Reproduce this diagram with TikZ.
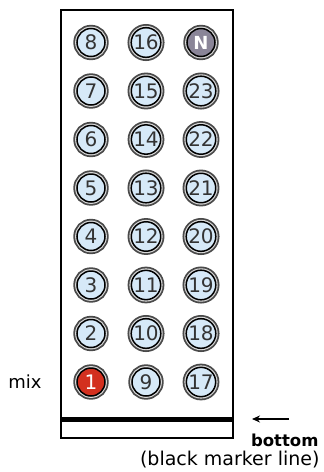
\documentclass[tikz,border=0pt]{standalone}
\usepackage{fontspec}
\setmainfont{DejaVu Sans}
\usetikzlibrary{arrows.meta}

\definecolor{wellblue}{HTML}{D6E9F8}
\definecolor{wellred}{HTML}{D3301F}
\definecolor{wellgrey}{HTML}{8A8598}
\definecolor{ringgrey}{HTML}{4A4A4A}

\tikzset{
  well/.style={circle, minimum size=28pt, inner sep=0pt, fill=wellblue,
    draw=black, line width=1.5pt, text=black!80,
    font=\fontsize{20}{20}\selectfont,
    preaction={draw=ringgrey, line width=7.4pt},
    preaction={draw=white!85!black, line width=3.8pt}},
  label/.style={font=\fontsize{18}{18}\selectfont}
}

\begin{document}
\begin{tikzpicture}[x=1pt, y=-1pt]
\useasboundingbox (0,0) rectangle (324,472);
% Grid parameters
\def\colx{91}
\def\colsep{55}
\def\rowy{382}
\def\rowsep{48.5}

% Tray and marker line
\draw[line width=1.3pt] (61,10) rectangle (233,438);
\draw[line width=5pt] (61,419) -- (233,419);

% Wells, numbered up each column
\node[well, fill=wellred, text=white] (w1) at (\colx,\rowy) {1};
\foreach \n in {2,...,23} {
  \pgfmathtruncatemacro\col{(\n-1)/8}
  \pgfmathtruncatemacro\row{mod(\n-1,8)}
  \node[well] (w\n) at ({\colx+\col*\colsep}, {\rowy-\row*\rowsep}) {\n};
}
\node[well, fill=wellgrey, text=white, font=\fontsize{18}{18}\selectfont\bfseries]
  (wN) at ({\colx+2*\colsep}, {\rowy-7*\rowsep}) {N};

% Labels
\node[label] (mix) at (25,382) {mix};
\coordinate (arrowtail) at (289,419);
\coordinate (arrowhead) at (252,419);
\draw[line width=1.3pt, -{Stealth[length=8pt, width=7pt]}] (arrowtail) -- (arrowhead);
\node[font=\fontsize{16.5}{16.5}\selectfont\bfseries, anchor=east] (bottom) at (322,440) {bottom};
\node[font=\fontsize{19}{19}\selectfont, anchor=east] (marker) at (323,460) {(black marker line)};
\end{tikzpicture}
\end{document}
